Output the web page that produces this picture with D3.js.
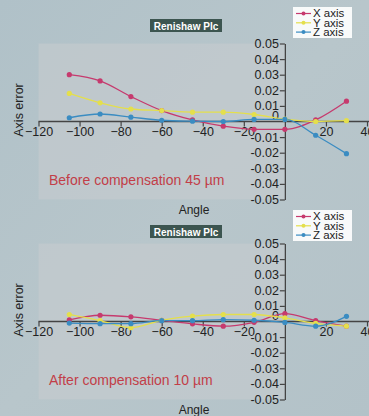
<!DOCTYPE html>
<html><head><meta charset="utf-8">
<script src="https://cdn.jsdelivr.net/npm/d3@7"></script>
<style>
html,body{margin:0;padding:0;background:#b6c4ca;}
svg{display:block;font-family:"Liberation Sans",Arial,Helvetica,sans-serif;}
</style></head>
<body>
<svg id="chart" width="369" height="416"></svg>
<script>
const angles = [-105, -90, -75, -60, -45, -30, -15, 0, 15, 30];
const beforeX = [0.030, 0.026, 0.016, 0.007, 0.001, -0.003, -0.005, -0.005, 0.001, 0.013];
const beforeY = [0.018, 0.012, 0.008, 0.007, 0.006, 0.006, 0.0045, 0.0015, 0.000, 0.0005];
const beforeZ = [0.0024, 0.0048, 0.0028, 0.0008, 0.0002, 0.0000, 0.0013, 0.0013, -0.0088, -0.0206];
const afterX = [0.001, 0.004, 0.003, 0.0008, -0.0015, -0.003, -0.0005, 0.005, 0.0006, -0.003];
const afterY = [0.0045, 0.0005, -0.004, 0.0008, 0.0035, 0.0045, 0.0045, 0.0023, -0.0012, -0.003];
const afterZ = [-0.001, -0.0014, -0.0014, 0.0005, 0.0005, 0.0012, 0.0008, -0.0006, -0.003, 0.0033];
const seriesNames = ["X axis", "Y axis", "Z axis"];
const seriesColors = ["#c63a6e", "#e4df4c", "#3a8cc2"];
const xTicks = [-120, -100, -80, -60, -40, -20, 20, 40];
const yTicks = [-0.05, -0.04, -0.03, -0.02, -0.01, 0, 0.01, 0.02, 0.03, 0.04, 0.05];
const panelTitles = ["Before compensation 45 µm", "After compensation 10 µm"];
const brand = "Renishaw Plc";
const xTitle = "Angle";
const yTitle = "Axis error";

const svg = d3.select("#chart");
const defs = svg.append("defs");
const grad = defs.append("linearGradient").attr("id","bg").attr("x1","0").attr("y1","0").attr("x2","1").attr("y2","1");
grad.append("stop").attr("offset","0").attr("stop-color","#b0c1c8");
grad.append("stop").attr("offset","0.5").attr("stop-color","#b8c6cb");
grad.append("stop").attr("offset","1").attr("stop-color","#b3c2c8");
svg.append("rect").attr("width",369).attr("height",416).attr("fill","url(#bg)");

const x = d3.scaleLinear().domain([-120, 40]).range([38.5, 367]);
const y = d3.scaleLinear().domain([-0.05, 0.05]).range([199.5, 43.5]);

const panels = [
  {dy: 0, brandDy: 0, legendDy: 0, series: [beforeX, beforeY, beforeZ], title: panelTitles[0]},
  {dy: 200, brandDy: 6, legendDy: 3, series: [afterX, afterY, afterZ], title: panelTitles[1]}
];

panels.forEach(p => {
  const g = svg.append("g").attr("transform", `translate(0,${p.dy})`);
  g.append("rect").attr("x", x(-120)).attr("y", y(0.05)).attr("width", x(0) - x(-120)).attr("height", y(-0.05) - y(0.05))
    .attr("fill", "#c6cccf").attr("opacity", 0.6);

  // brand label
  g.append("rect").attr("x",150).attr("y",19 + p.brandDy).attr("width",72).attr("height",13).attr("fill","#3c5550");
  g.append("text").attr("x",186).attr("y",29.5 + p.brandDy).attr("text-anchor","middle").attr("fill","#ffffff")
    .attr("font-size",10).attr("font-weight","bold").text(brand);

  // x axis
  const xa = g.append("g").attr("transform", `translate(0,${y(0)})`)
    .call(d3.axisBottom(x).tickValues(xTicks).tickSize(5).tickSizeOuter(0).tickFormat(d3.format("d")));
  xa.select(".domain").attr("d", `M${x(-120)},0H369`).attr("stroke","#444").attr("stroke-width",1.3);
  xa.selectAll(".tick line").attr("stroke","#444").attr("stroke-width",1.2);
  xa.selectAll(".tick text").attr("font-size",12.5).attr("fill","#222").attr("dy","0.55em").attr("font-family","Liberation Sans, Arial, sans-serif");

  // y axis
  const ya = g.append("g").attr("transform", `translate(${x(0)},0)`)
    .call(d3.axisLeft(y).tickValues(yTicks).tickSize(5).tickSizeOuter(0).tickFormat(d => d === 0 ? "0" : d.toFixed(2)));
  ya.select(".domain").attr("stroke","#444").attr("stroke-width",1.3);
  ya.selectAll(".tick line").attr("stroke","#444").attr("stroke-width",1.2).attr("opacity", d => d === 0 ? 0 : 1);
  ya.selectAll(".tick text").attr("font-size",12.5).attr("fill","#222").attr("x",-6).attr("font-family","Liberation Sans, Arial, sans-serif")
    .attr("dy", d => d === 0 ? "-0.15em" : "0.32em");

  // series
  const line = d3.line().x((d,i) => x(angles[i])).y(d => y(d)).curve(d3.curveMonotoneX);
  p.series.forEach((s, k) => {
    g.append("path").datum(s).attr("d", line).attr("fill","none").attr("stroke", seriesColors[k]).attr("stroke-width",1.3);
  });
  p.series.forEach((s, k) => {
    g.selectAll(null).data(s).enter().append("circle")
      .attr("cx", (d,i) => x(angles[i])).attr("cy", d => y(d)).attr("r", 2.6).attr("fill", seriesColors[k]);
  });

  // legend
  const lg = g.append("g").attr("transform", `translate(0,${p.legendDy})`);
  lg.append("rect").attr("x",293).attr("y",7).attr("width",59).attr("height",31).attr("fill","#ffffff").attr("opacity",0.9);
  seriesNames.forEach((n, k) => {
    const yy = 13.5 + k * 9.3;
    lg.append("line").attr("x1",296).attr("x2",311).attr("y1",yy).attr("y2",yy).attr("stroke",seriesColors[k]).attr("stroke-width",1.2);
    lg.append("circle").attr("cx",303.5).attr("cy",yy).attr("r",2).attr("fill",seriesColors[k]);
    lg.append("text").attr("x",313).attr("y",yy + 3.8).attr("font-size",11.5).attr("fill","#222").text(n);
  });

  // titles
  g.append("text").attr("x",49).attr("y",185).attr("font-size",14).attr("fill","#c23e48").text(p.title);
  g.append("text").attr("x",194).attr("y",214).attr("text-anchor","middle").attr("font-size",12).attr("fill","#222").text(xTitle);
  g.append("text").attr("transform",`translate(23,110) rotate(-90)`).attr("text-anchor","middle").attr("font-size",12.5).attr("fill","#222").text(yTitle);
});
</script>
</body></html>
